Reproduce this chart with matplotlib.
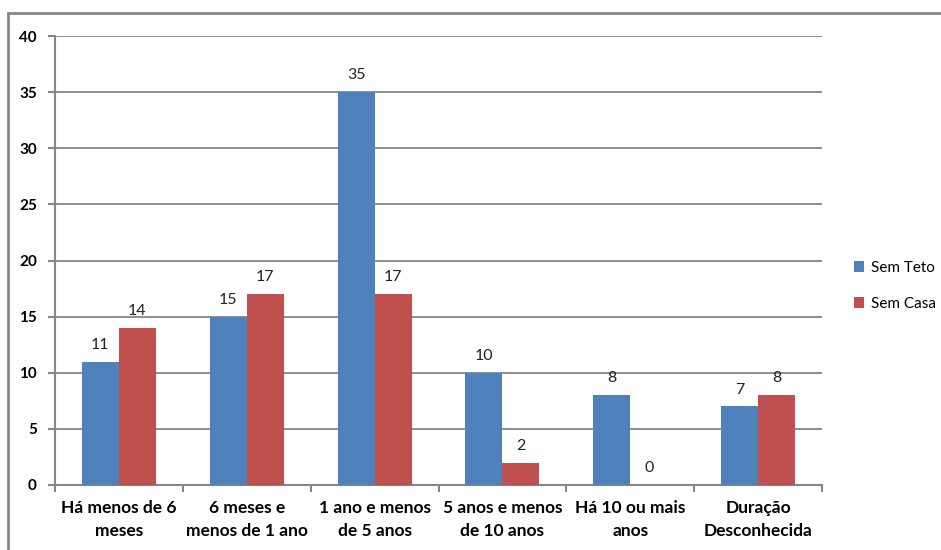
import matplotlib
matplotlib.use("Agg")
import matplotlib.pyplot as plt
from matplotlib.patches import Rectangle
import numpy as np

categories = ["Há menos de 6\nmeses", "6 meses e\nmenos de 1 ano", "1 ano e menos\nde 5 anos",
              "5 anos e menos\nde 10 anos", "Há 10 ou mais\nanos", "Duração\nDesconhecida"]
sem_teto = [11, 15, 35, 10, 8, 7]
sem_casa = [14, 17, 17, 2, 0, 8]
series_names = ["Sem Teto", "Sem Casa"]
colors = ["#4F81BD", "#C0504D"]
yticks = [0, 5, 10, 15, 20, 25, 30, 35, 40]

plt.rcParams['font.family'] = ['Lato', 'DejaVu Sans']

W, H = 941, 550
fig = plt.figure(figsize=(W/100, H/100), dpi=100)
ax = fig.add_axes([55/W, 1-485/H, (822-55)/W, (485-36)/H])

grid_c = "#868686"
x = np.arange(len(categories)) + 0.5
bw = 0.29
for vals, off, c, name in [(sem_teto, -bw/2, colors[0], series_names[0]),
                           (sem_casa, bw/2, colors[1], series_names[1])]:
    ax.bar(x + off, vals, width=bw, color=c, label=name, zorder=3)
    for xi, v in zip(x + off, vals):
        ax.annotate(str(v), (xi, v), xytext=(0, 7), textcoords="offset points",
                    ha="center", va="bottom", fontsize=11.5, color="#222222")

ax.set_xlim(0, 6)
ax.set_ylim(0, 40)
ax.set_yticks(yticks)
ax.set_yticklabels([str(t) for t in yticks], fontweight="bold", fontsize=11)
ax.set_xticks(np.arange(0, 7))
ax.set_xticklabels([])
ax.set_xticks(x, minor=True)
ax.set_xticklabels(categories, minor=True, fontweight="bold", fontsize=12.5, linespacing=1.55)
ax.tick_params(axis="x", which="minor", length=0, pad=11)
ax.tick_params(axis="x", which="major", length=5, color=grid_c, width=1.5)
ax.tick_params(axis="y", length=5, color=grid_c, width=1.5, pad=8)
ax.grid(axis="y", color=grid_c, linewidth=1.3, zorder=0)
for s in ["top", "right"]:
    ax.spines[s].set_visible(False)
for s in ["left", "bottom"]:
    ax.spines[s].set_color(grid_c)
    ax.spines[s].set_linewidth(1.5)

ax.legend(loc="center left", bbox_to_anchor=(840/W, 1-286/H), bbox_transform=fig.transFigure,
          frameon=False, fontsize=11, handlelength=0.7, handleheight=0.7,
          labelspacing=1.45, handletextpad=0.4)

fig.patches.append(Rectangle((8/W, -0.1), 2, 1.1 - 13/H, transform=fig.transFigure,
                             fill=False, edgecolor=grid_c, linewidth=2))
fig.savefig("out.png", dpi=100)
